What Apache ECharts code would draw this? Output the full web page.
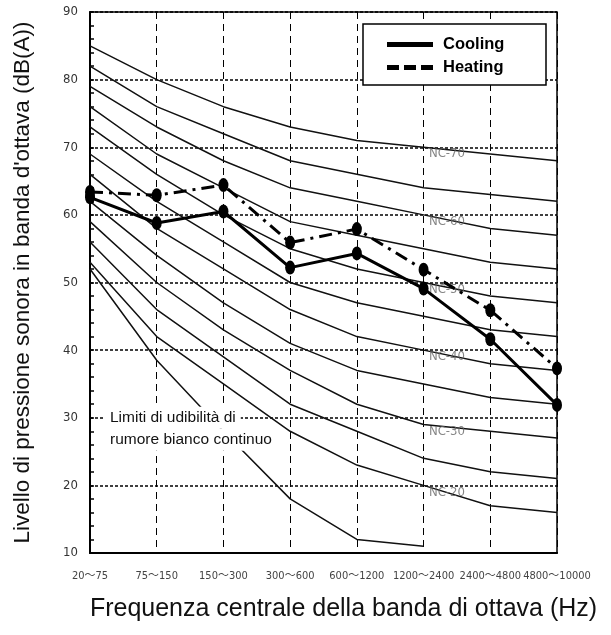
<!DOCTYPE html>
<html><head><meta charset="utf-8">
<script src="https://cdn.jsdelivr.net/npm/echarts@6/dist/echarts.min.js"></script>
<style>html,body{margin:0;padding:0;background:#fff}#c{width:611px;height:635px}</style>
</head><body><div id="c"></div>
<script>
const categories = ['20〜75','75〜150','150〜300','300〜600','600〜1200','1200〜2400','2400〜4800','4800〜10000'];
const yTicks = [10,20,30,40,50,60,70,80,90];
const nc70 = [85, 80, 76, 73, 71, 70, 69, 68];
const nc65 = [82, 76, 72, 68, 66, 64, 63, 62];
const nc60 = [79, 73, 68, 64, 62, 60, 58, 57];
const nc55 = [76, 69, 64, 59, 57, 55, 53, 52];
const nc50 = [73, 66, 60, 55, 52, 50, 48, 47];
const nc45 = [69, 62, 56, 50, 47, 45, 43, 42];
const nc40 = [66, 58, 52, 46, 42, 40, 38, 37];
const nc35 = [62, 54, 47, 41, 37, 35, 33, 32];
const nc30 = [59, 50, 43, 37, 32, 29, 28, 27];
const nc25 = [56, 46, 39, 32, 28, 24, 22, 21];
const nc20 = [53, 42, 35, 28, 23, 20, 17, 16];
const threshold = [52, 38.5, 28, 18, 12, 11];
const cooling = [62.6, 58.8, 60.5, 52.2, 54.3, 49.1, 41.6, 31.9];
const heating = [63.4, 62.9, 64.4, 55.9, 57.9, 51.9, 45.9, 37.3];
const ncLabelNames = ['NC-70','NC-60','NC-50','NC-40','NC-30','NC-20'];
const thresholdText = ['Limiti di udibilità di', 'rumore bianco continuo'];

const narrow = "'Liberation Sans Narrow','DejaVu Sans Condensed','Noto Sans CJK JP',sans-serif";
const sans = "'Liberation Sans',Arial,sans-serif";

const ncCurves = [nc70, nc65, nc60, nc55, nc50, nc45, nc40, nc35, nc30, nc25, nc20];
const ncLabeled = [nc70, nc60, nc50, nc40, nc30, nc20];
const pairs = arr => arr.map((v, i) => [i, v]);

const series = [];
ncCurves.forEach((c, k) => series.push({
  type: 'line', name: 'nc' + k, data: pairs(c), symbol: 'none', silent: true,
  lineStyle: { color: '#111', width: 1.5 }, z: 2
}));
series.push({
  type: 'line', name: 'threshold', data: pairs(threshold), symbol: 'none', silent: true,
  lineStyle: { color: '#111', width: 1.5 }, z: 2
});
series.push({
  type: 'scatter', name: 'ncLabels', symbolSize: 0, silent: true, z: 3,
  data: ncLabeled.map((c, k) => ({ value: [5.35, c[5] - 1], name: ncLabelNames[k] })),
  label: { show: true, position: 'inside', formatter: p => p.name, color: '#666',
    fontFamily: narrow, fontSize: 13 }
});
series.push({
  type: 'line', name: 'Cooling', data: pairs(cooling), symbol: 'circle', symbolSize: [10, 14],
  itemStyle: { color: '#000' }, lineStyle: { color: '#000', width: 3 }, z: 8
});
series.push({
  type: 'line', name: 'Heating', data: pairs(heating), symbol: 'circle', symbolSize: [10, 14],
  itemStyle: { color: '#000' }, lineStyle: { color: '#000', width: 3, type: [13, 6, 3, 6] }, z: 8
});

const chart = echarts.init(document.getElementById('c'), null, { renderer: 'canvas' });
chart.setOption({
  animation: false,
  backgroundColor: '#fff',
  grid: { left: 90, right: 54, top: 12, bottom: 82, show: true, borderColor: '#000', borderWidth: 1.5, z: 1 },
  xAxis: {
    type: 'value', min: 0, max: categories.length - 1, interval: 1,
    name: 'Frequenza centrale della banda di ottava (Hz)', nameLocation: 'middle', nameGap: 44,
    nameTextStyle: { fontFamily: sans, fontSize: 25, color: '#111', padding: [0, 0, 0, 40] },
    axisLine: { lineStyle: { color: '#000', width: 2 } },
    axisTick: { show: false },
    axisLabel: { formatter: v => categories[v] || '', fontFamily: narrow, fontSize: 11, color: '#444', margin: 18 },
    splitLine: { show: true, lineStyle: { color: '#000', width: 1, type: [7, 5] } }
  },
  yAxis: {
    type: 'value', min: yTicks[0], max: yTicks[yTicks.length - 1], interval: 10,
    name: "Livello di pressione sonora in banda d'ottava (dB(A))", nameLocation: 'middle', nameGap: 56,
    nameTextStyle: { fontFamily: sans, fontSize: 22.5, color: '#111' },
    axisLine: { show: true, lineStyle: { color: '#000', width: 2 } },
    axisTick: { show: true, inside: true, length: 4, lineStyle: { color: '#000', width: 1.5 } },
    minorTick: { show: true, splitNumber: 5, length: 4, lineStyle: { color: '#000', width: 1.5 } },
    axisLabel: { fontFamily: narrow, fontSize: 13, color: '#333', margin: 12 },
    splitLine: { show: true, lineStyle: { color: '#000', width: 1.5, type: [3, 2] } }
  },
  legend: {
    data: [
      { name: 'Cooling', icon: 'path://M0,0H46V5H0Z' },
      { name: 'Heating', icon: 'path://M0,0H12V5H0Z M17,0H29V5H17Z M34,0H46V5H34Z' }
    ],
    orient: 'vertical', left: 382, top: 31, itemWidth: 46, itemHeight: 5, itemGap: 6,
    textStyle: { fontFamily: sans, fontSize: 16.5, fontWeight: 'bold', color: '#000', padding: [0, 0, 0, 5], lineHeight: 17 },
    z: 20
  },
  graphic: [{
    id: 'legendBox', type: 'rect', shape: { x: 363, y: 24, width: 183, height: 61 }, z: 15,
    style: { fill: '#fff', stroke: '#000', lineWidth: 1.5 }
  }],
  series
});

// threshold caption anchored to data coordinates
const p0 = chart.convertToPixel({ gridIndex: 0 }, [0, 30]);
const lineGap = 22;
chart.setOption({
  graphic: thresholdText.map((t, i) => ({
    id: 'thr' + i, type: 'text', x: p0[0] + 15, y: p0[1] + i * lineGap, z: 12,
    style: {
      text: t, font: '15.5px ' + sans, fill: '#111', verticalAlign: 'middle', align: 'left',
      backgroundColor: '#fff', padding: [3, 5, 3, 5]
    }
  }))
});
</script></body></html>
